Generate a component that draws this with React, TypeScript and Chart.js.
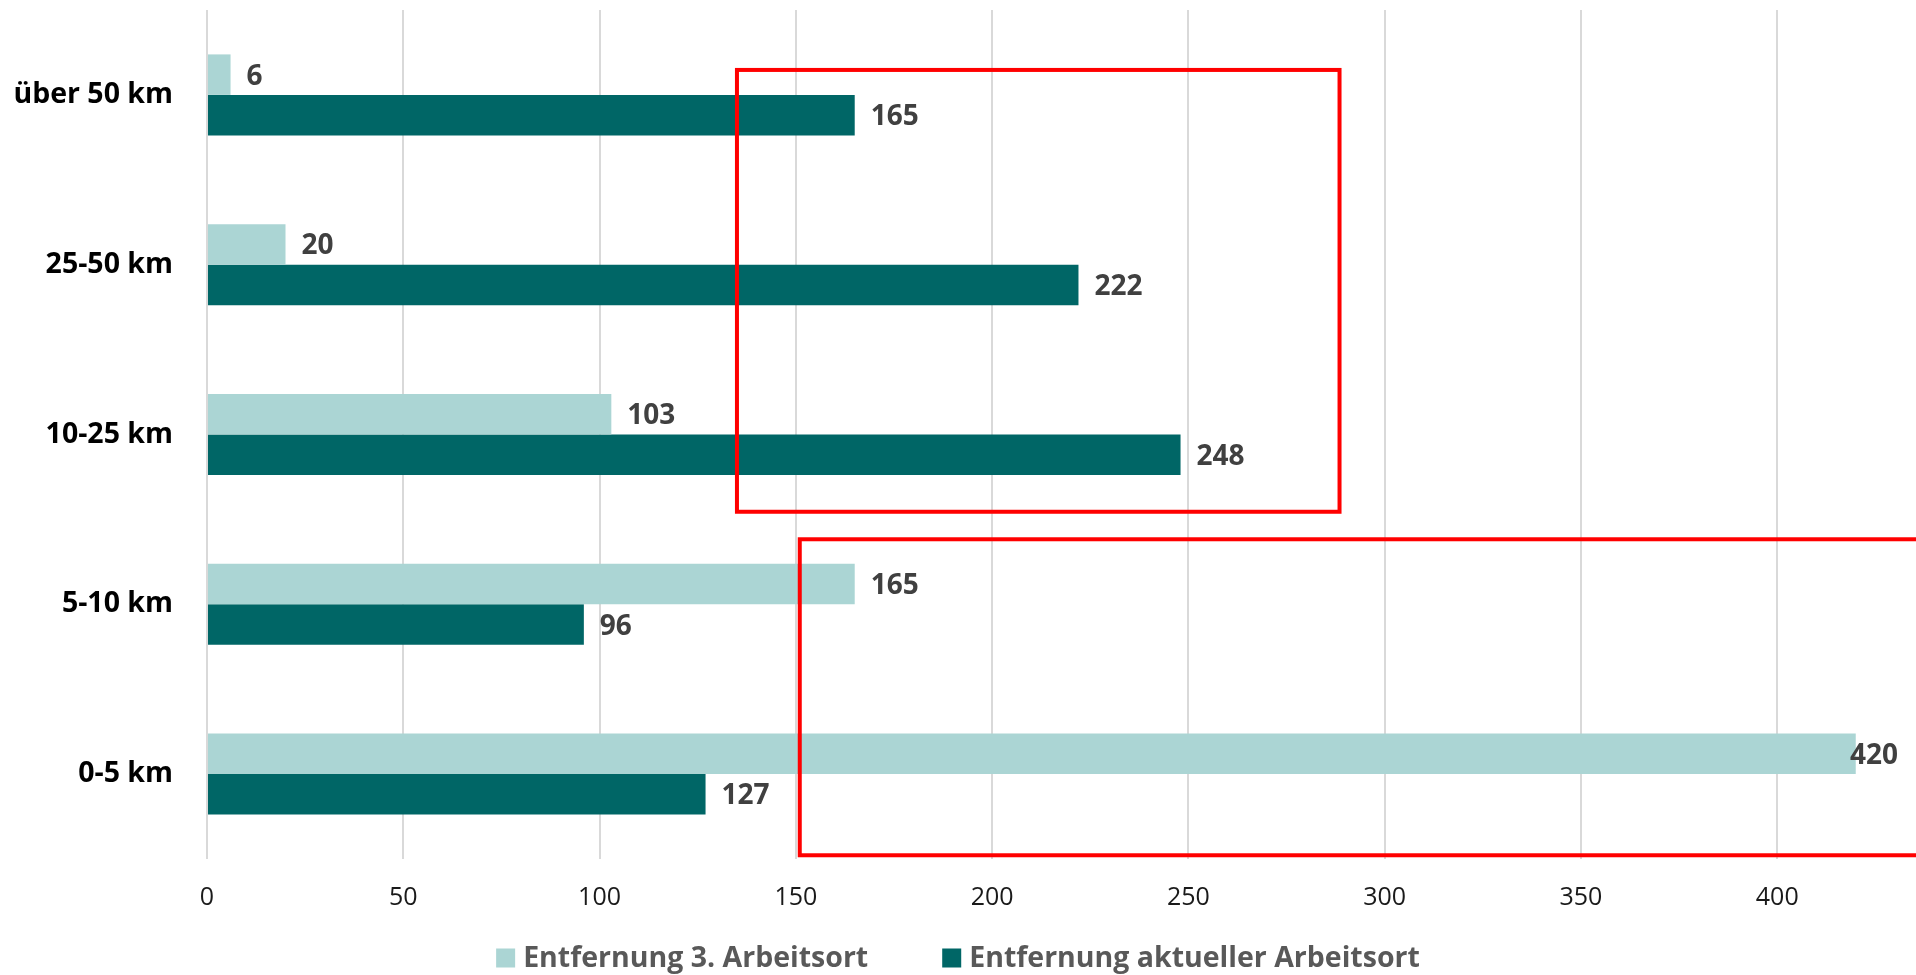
import React, { useEffect, useRef } from "react";
import { Chart, registerables } from "chart.js";

Chart.register(...registerables);

// Distance bands, listed top to bottom
const categories = ["über 50 km", "25-50 km", "10-25 km", "5-10 km", "0-5 km"];
const seriesNames = ["Entfernung 3. Arbeitsort", "Entfernung aktueller Arbeitsort"];
const seriesColors = ["#ABD5D4", "#006666"];
const thirdWorkplace = [6, 20, 103, 165, 420];
const currentWorkplace = [165, 222, 248, 96, 127];
const xTicks = [0, 50, 100, 150, 200, 250, 300, 350, 400];

// Red highlight frames: value range on x, category-index range on y
const frameXFrom = [135, 151];
const frameXTo = [288.5, 445];
const frameCatFrom = [-0.147, 2.617];
const frameCatTo = [2.455, 4.478];

const FONT = "'Open Sans', 'DejaVu Sans', sans-serif";

const valueLabels = {
  id: "valueLabels",
  afterDatasetsDraw(chart: any) {
    const ctx = chart.ctx;
    ctx.save();
    ctx.font = `bold 28px ${FONT}`;
    ctx.fillStyle = "#404040";
    ctx.textBaseline = "middle";
    ctx.textAlign = "left";
    chart.data.datasets.forEach((ds: any, di: number) => {
      const meta = chart.getDatasetMeta(di);
      meta.data.forEach((el: any, i: number) => {
        const text = String(ds.data[i]);
        const w = ctx.measureText(text).width;
        let tx = el.x + 16;
        if (tx + w > chart.width - 18) tx = chart.width - 18 - w;
        ctx.fillText(text, tx, el.y + 2);
      });
    });
    ctx.restore();
  },
};

const highlightFrames = {
  id: "highlightFrames",
  afterDraw(chart: any) {
    const ctx = chart.ctx;
    const xs = chart.scales.x;
    const ys = chart.scales.y;
    ctx.save();
    ctx.strokeStyle = "#FF0000";
    ctx.lineWidth = 4;
    ctx.lineJoin = "miter";
    for (let i = 0; i < frameXFrom.length; i++) {
      const x1 = xs.getPixelForValue(frameXFrom[i]);
      const x2 = xs.getPixelForValue(frameXTo[i]);
      const y1 = ys.getPixelForValue(frameCatFrom[i]);
      const y2 = ys.getPixelForValue(frameCatTo[i]);
      ctx.strokeRect(x1, y1, x2 - x1, y2 - y1);
    }
    ctx.restore();
  },
};

const bottomLegend = {
  id: "bottomLegend",
  afterDraw(chart: any) {
    const ctx = chart.ctx;
    const box = 19;
    const boxGap = 8;
    const itemGap = 74;
    const y = 958;
    ctx.save();
    ctx.font = `bold 28.5px ${FONT}`;
    const widths = seriesNames.map((t) => ctx.measureText(t).width);
    const total =
      widths.reduce((a, w) => a + box + boxGap + w, 0) + itemGap * (seriesNames.length - 1);
    let x = (chart.width - total) / 2;
    ctx.textBaseline = "middle";
    ctx.textAlign = "left";
    seriesNames.forEach((name, i) => {
      ctx.fillStyle = seriesColors[i];
      ctx.fillRect(x, y - box / 2, box, box);
      ctx.fillStyle = "#595959";
      ctx.fillText(name, x + box + boxGap, y + 1);
      x += box + boxGap + widths[i] + itemGap;
    });
    ctx.restore();
  },
};

export default function App() {
  const canvasRef = useRef<HTMLCanvasElement | null>(null);

  useEffect(() => {
    document.body.style.overflow = "hidden";
    const canvas = canvasRef.current;
    if (!canvas) return;
    const chart = new Chart(canvas, {
      type: "bar",
      data: {
        labels: categories,
        datasets: [
          {
            label: seriesNames[0],
            data: thirdWorkplace,
            backgroundColor: seriesColors[0],
            borderWidth: 0,
            barPercentage: 1,
            categoryPercentage: 0.477,
          },
          {
            label: seriesNames[1],
            data: currentWorkplace,
            backgroundColor: seriesColors[1],
            borderWidth: 0,
            barPercentage: 1,
            categoryPercentage: 0.477,
          },
        ],
      },
      options: {
        indexAxis: "y",
        animation: false,
        responsive: true,
        maintainAspectRatio: false,
        layout: { padding: { top: 10, right: 21, bottom: 62, left: 0 } },
        plugins: {
          legend: { display: false },
          tooltip: { enabled: false },
        },
        scales: {
          x: {
            min: 0,
            max: 430,
            afterBuildTicks: (s: any) => {
              s.ticks = xTicks.map((v) => ({ value: v }));
            },
            grid: { color: "#D9D9D9", lineWidth: 2, drawTicks: false },
            border: { display: false },
            ticks: {
              padding: 24,
              color: "#1a1a1a",
              font: { family: FONT, size: 25 },
              maxRotation: 0,
            },
            afterFit: (s: any) => {
              s.height = 54;
            },
          },
          y: {
            grid: { display: false, drawTicks: false },
            border: { display: false },
            ticks: {
              padding: 34,
              color: "#000000",
              font: { family: FONT, size: 28.5, weight: "bold" },
            },
            afterFit: (s: any) => {
              s.width = 207;
              s.paddingTop = 0;
              s.paddingBottom = 0;
            },
          },
        },
      } as any,
      plugins: [valueLabels, highlightFrames, bottomLegend],
    });
    return () => chart.destroy();
  }, []);

  return (
    <div style={{ position: "absolute", left: 0, top: 0, width: 1916, height: 975 }}>
      <canvas ref={canvasRef} />
    </div>
  );
}
